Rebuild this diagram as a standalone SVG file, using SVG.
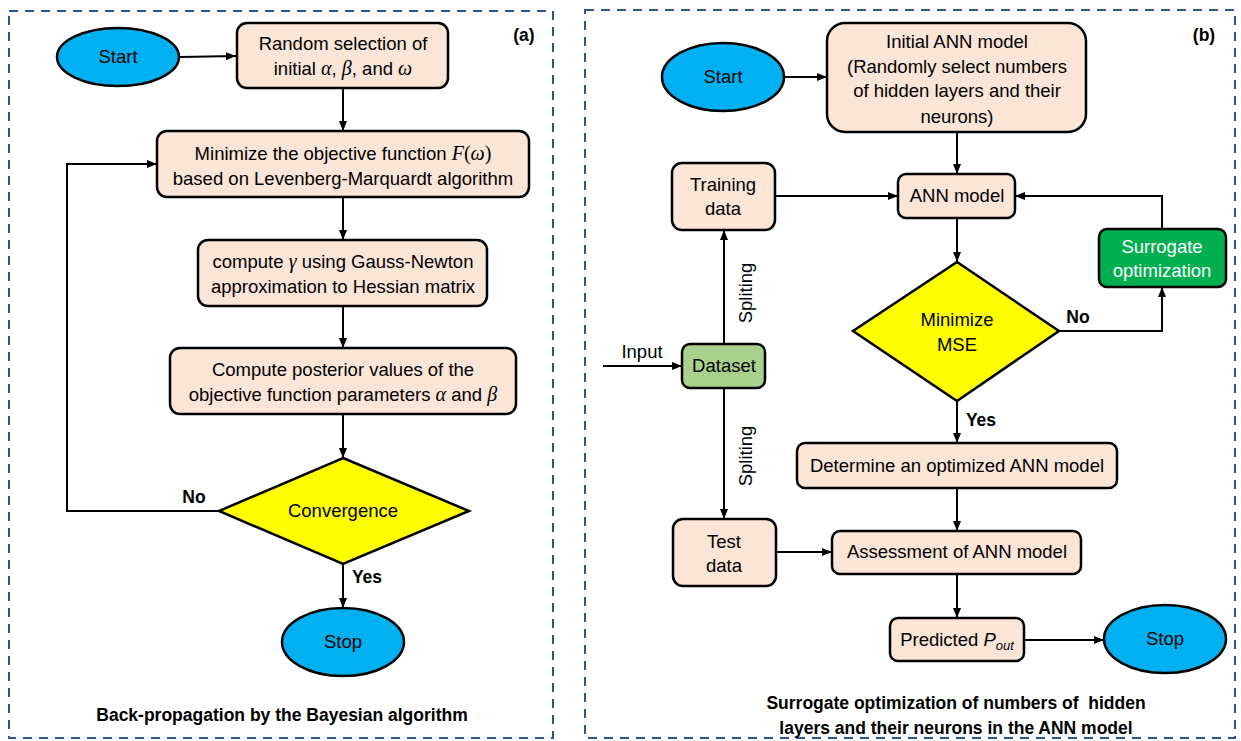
<svg xmlns="http://www.w3.org/2000/svg" width="1241" height="741" viewBox="0 0 1241 741">
<defs>
<marker id="ah" markerUnits="userSpaceOnUse" markerWidth="10" markerHeight="8" refX="10" refY="4" orient="auto">
<path d="M0,0 L10,4 L0,8 z" fill="#000"/>
</marker>
<style>
.panel{fill:none;stroke:#2F5597;stroke-width:2;stroke-dasharray:9,7}
.box{fill:#FBE5D6;stroke:#000;stroke-width:2.5}
.oval{fill:#00B0F0;stroke:#000;stroke-width:2.5}
.dia{fill:#FFFF00;stroke:#000;stroke-width:2.5}
.sur{fill:#00B050;stroke:#000;stroke-width:2.5}
.ds{fill:#A9D18E;stroke:#000;stroke-width:2.5}
.t{font-family:"Liberation Sans",Arial,sans-serif;font-size:18.5px;fill:#000;text-anchor:middle}
.w{fill:#fff}
.b{font-family:"Liberation Sans",Arial,sans-serif;font-size:17.5px;font-weight:bold;fill:#000;text-anchor:middle}
.m{font-family:"Liberation Serif","Times New Roman",serif;font-style:italic;font-size:20px}
.mu{font-family:"Liberation Serif","Times New Roman",serif;font-size:20px}
.c{fill:none;stroke:#000;stroke-width:2}
</style>
</defs>
<rect fill="#fff" x="0" y="0" width="1241" height="741"/>
<rect class="panel" x="9" y="11" width="544" height="727"/>
<rect class="panel" x="585" y="10" width="650" height="728"/>

<g id="connectors">
<line class="c" x1="180" y1="57" x2="236" y2="56" marker-end="url(#ah)"/>
<line class="c" x1="343" y1="88" x2="343" y2="131" marker-end="url(#ah)"/>
<line class="c" x1="343" y1="197" x2="343" y2="240" marker-end="url(#ah)"/>
<line class="c" x1="343" y1="306" x2="343" y2="348" marker-end="url(#ah)"/>
<line class="c" x1="343" y1="414" x2="343" y2="458" marker-end="url(#ah)"/>
<polyline class="c" points="219,511 67,511 67,164 157,164" marker-end="url(#ah)"/>
<line class="c" x1="343" y1="564" x2="343" y2="608" marker-end="url(#ah)"/>

<line class="c" x1="784" y1="77" x2="827" y2="77" marker-end="url(#ah)"/>
<line class="c" x1="957" y1="132" x2="957" y2="174" marker-end="url(#ah)"/>
<line class="c" x1="775" y1="196" x2="898" y2="196" marker-end="url(#ah)"/>
<line class="c" x1="957" y1="218" x2="957" y2="262" marker-end="url(#ah)"/>
<polyline class="c" points="1059,331 1162,331 1162,287" marker-end="url(#ah)"/>
<polyline class="c" points="1162,229 1162,196 1015,196" marker-end="url(#ah)"/>
<line class="c" x1="957" y1="401" x2="957" y2="443" marker-end="url(#ah)"/>
<line class="c" x1="603" y1="366" x2="682" y2="366" marker-end="url(#ah)"/>
<line class="c" x1="724" y1="344" x2="724" y2="230" marker-end="url(#ah)"/>
<line class="c" x1="724" y1="388" x2="724" y2="519" marker-end="url(#ah)"/>
<line class="c" x1="776" y1="552" x2="832" y2="552" marker-end="url(#ah)"/>
<line class="c" x1="957" y1="488" x2="957" y2="531" marker-end="url(#ah)"/>
<line class="c" x1="957" y1="574" x2="957" y2="618" marker-end="url(#ah)"/>
<line class="c" x1="1024" y1="640" x2="1104" y2="640" marker-end="url(#ah)"/>
<text class="b" x="194" y="503">No</text>
<text class="b" x="367" y="583">Yes</text>
<text class="b" x="1078" y="323">No</text>
<text class="b" x="981" y="426">Yes</text>
<text class="t" x="642" y="358">Input</text>
<text class="t" transform="translate(752,293) rotate(-90)">Spliting</text>
<text class="t" transform="translate(752,456) rotate(-90)">Spliting</text>
</g>

<g id="a-start"><ellipse class="oval" cx="118" cy="57" rx="61" ry="29"/><text class="t" x="118" y="63">Start</text></g>
<g id="a-random"><rect class="box" x="237" y="23" width="211" height="65" rx="10"/>
<text class="t" x="343" y="50">Random selection of</text>
<text class="t" x="343" y="75">initial <tspan class="m">α</tspan>, <tspan class="m">β</tspan>, and <tspan class="m">ω</tspan></text></g>
<g id="a-minimize"><rect class="box" x="157" y="131" width="372" height="66" rx="10"/>
<text class="t" x="343" y="160">Minimize the objective function <tspan class="m">F</tspan><tspan class="mu">(</tspan><tspan class="m">ω</tspan><tspan class="mu">)</tspan></text>
<text class="t" x="343" y="185">based on Levenberg-Marquardt algorithm</text></g>
<g id="a-gamma"><rect class="box" x="198" y="240" width="289" height="66" rx="10"/>
<text class="t" x="343" y="268">compute <tspan class="m">γ</tspan> using Gauss-Newton</text>
<text class="t" x="343" y="293">approximation to Hessian matrix</text></g>
<g id="a-posterior"><rect class="box" x="170" y="348" width="346" height="66" rx="10"/>
<text class="t" x="343" y="376">Compute posterior values of the</text>
<text class="t" x="343" y="401">objective function parameters <tspan class="m">α</tspan> and <tspan class="m">β</tspan></text></g>
<g id="a-convergence"><polygon class="dia" points="343,458 469,511 343,564 219,511"/><text class="t" x="343" y="517">Convergence</text></g>
<g id="a-stop"><ellipse class="oval" cx="343" cy="642" rx="61" ry="34"/><text class="t" x="343" y="648">Stop</text></g>
<text class="b" x="524" y="41">(a)</text>
<text class="b" x="282" y="721">Back-propagation by the Bayesian algorithm</text>

<g id="b-start"><ellipse class="oval" cx="723" cy="77" rx="61" ry="34"/><text class="t" x="723" y="83">Start</text></g>
<g id="b-initial"><rect class="box" x="827" y="23" width="259" height="109" rx="18"/>
<text class="t" x="957" y="48">Initial ANN model</text>
<text class="t" x="957" y="73">(Randomly select numbers</text>
<text class="t" x="957" y="97">of hidden layers and their</text>
<text class="t" x="957" y="123">neurons)</text></g>
<g id="b-training"><rect class="box" x="672" y="163" width="103" height="67" rx="10"/>
<text class="t" x="723" y="191">Training</text><text class="t" x="723" y="215">data</text></g>
<g id="b-ann"><rect class="box" x="898" y="174" width="117" height="44" rx="8"/><text class="t" x="957" y="202">ANN model</text></g>
<g id="b-surrogate"><rect class="sur" x="1099" y="229" width="127" height="58" rx="8"/>
<text class="t w" x="1162" y="253">Surrogate</text><text class="t w" x="1162" y="277">optimization</text></g>
<g id="b-mse"><polygon class="dia" points="957,262 1059,331 957,401 853,331"/>
<text class="t" x="957" y="326">Minimize</text><text class="t" x="957" y="351">MSE</text></g>
<g id="b-dataset"><rect class="ds" x="682" y="344" width="83" height="44" rx="8"/><text class="t" x="724" y="372">Dataset</text></g>
<g id="b-determine"><rect class="box" x="797" y="443" width="320" height="45" rx="8"/><text class="t" x="957" y="472">Determine an optimized ANN model</text></g>
<g id="b-test"><rect class="box" x="673" y="519" width="103" height="67" rx="10"/>
<text class="t" x="724" y="548">Test</text><text class="t" x="724" y="572">data</text></g>
<g id="b-assessment"><rect class="box" x="832" y="531" width="249" height="43" rx="8"/><text class="t" x="957" y="558">Assessment of ANN model</text></g>
<g id="b-predicted"><rect class="box" x="890" y="618" width="134" height="43" rx="8"/>
<text class="t" x="957" y="646">Predicted <tspan font-style="italic">P</tspan><tspan font-style="italic" font-size="13" dy="4">out</tspan></text></g>
<g id="b-stop"><ellipse class="oval" cx="1165" cy="639" rx="61" ry="34"/><text class="t" x="1165" y="645">Stop</text></g>
<text class="b" x="1204" y="41">(b)</text>
<text class="b" x="956" y="709">Surrogate optimization of numbers of&#160; hidden</text>
<text class="b" x="956" y="734">layers and their neurons in the ANN model</text>
</svg>
